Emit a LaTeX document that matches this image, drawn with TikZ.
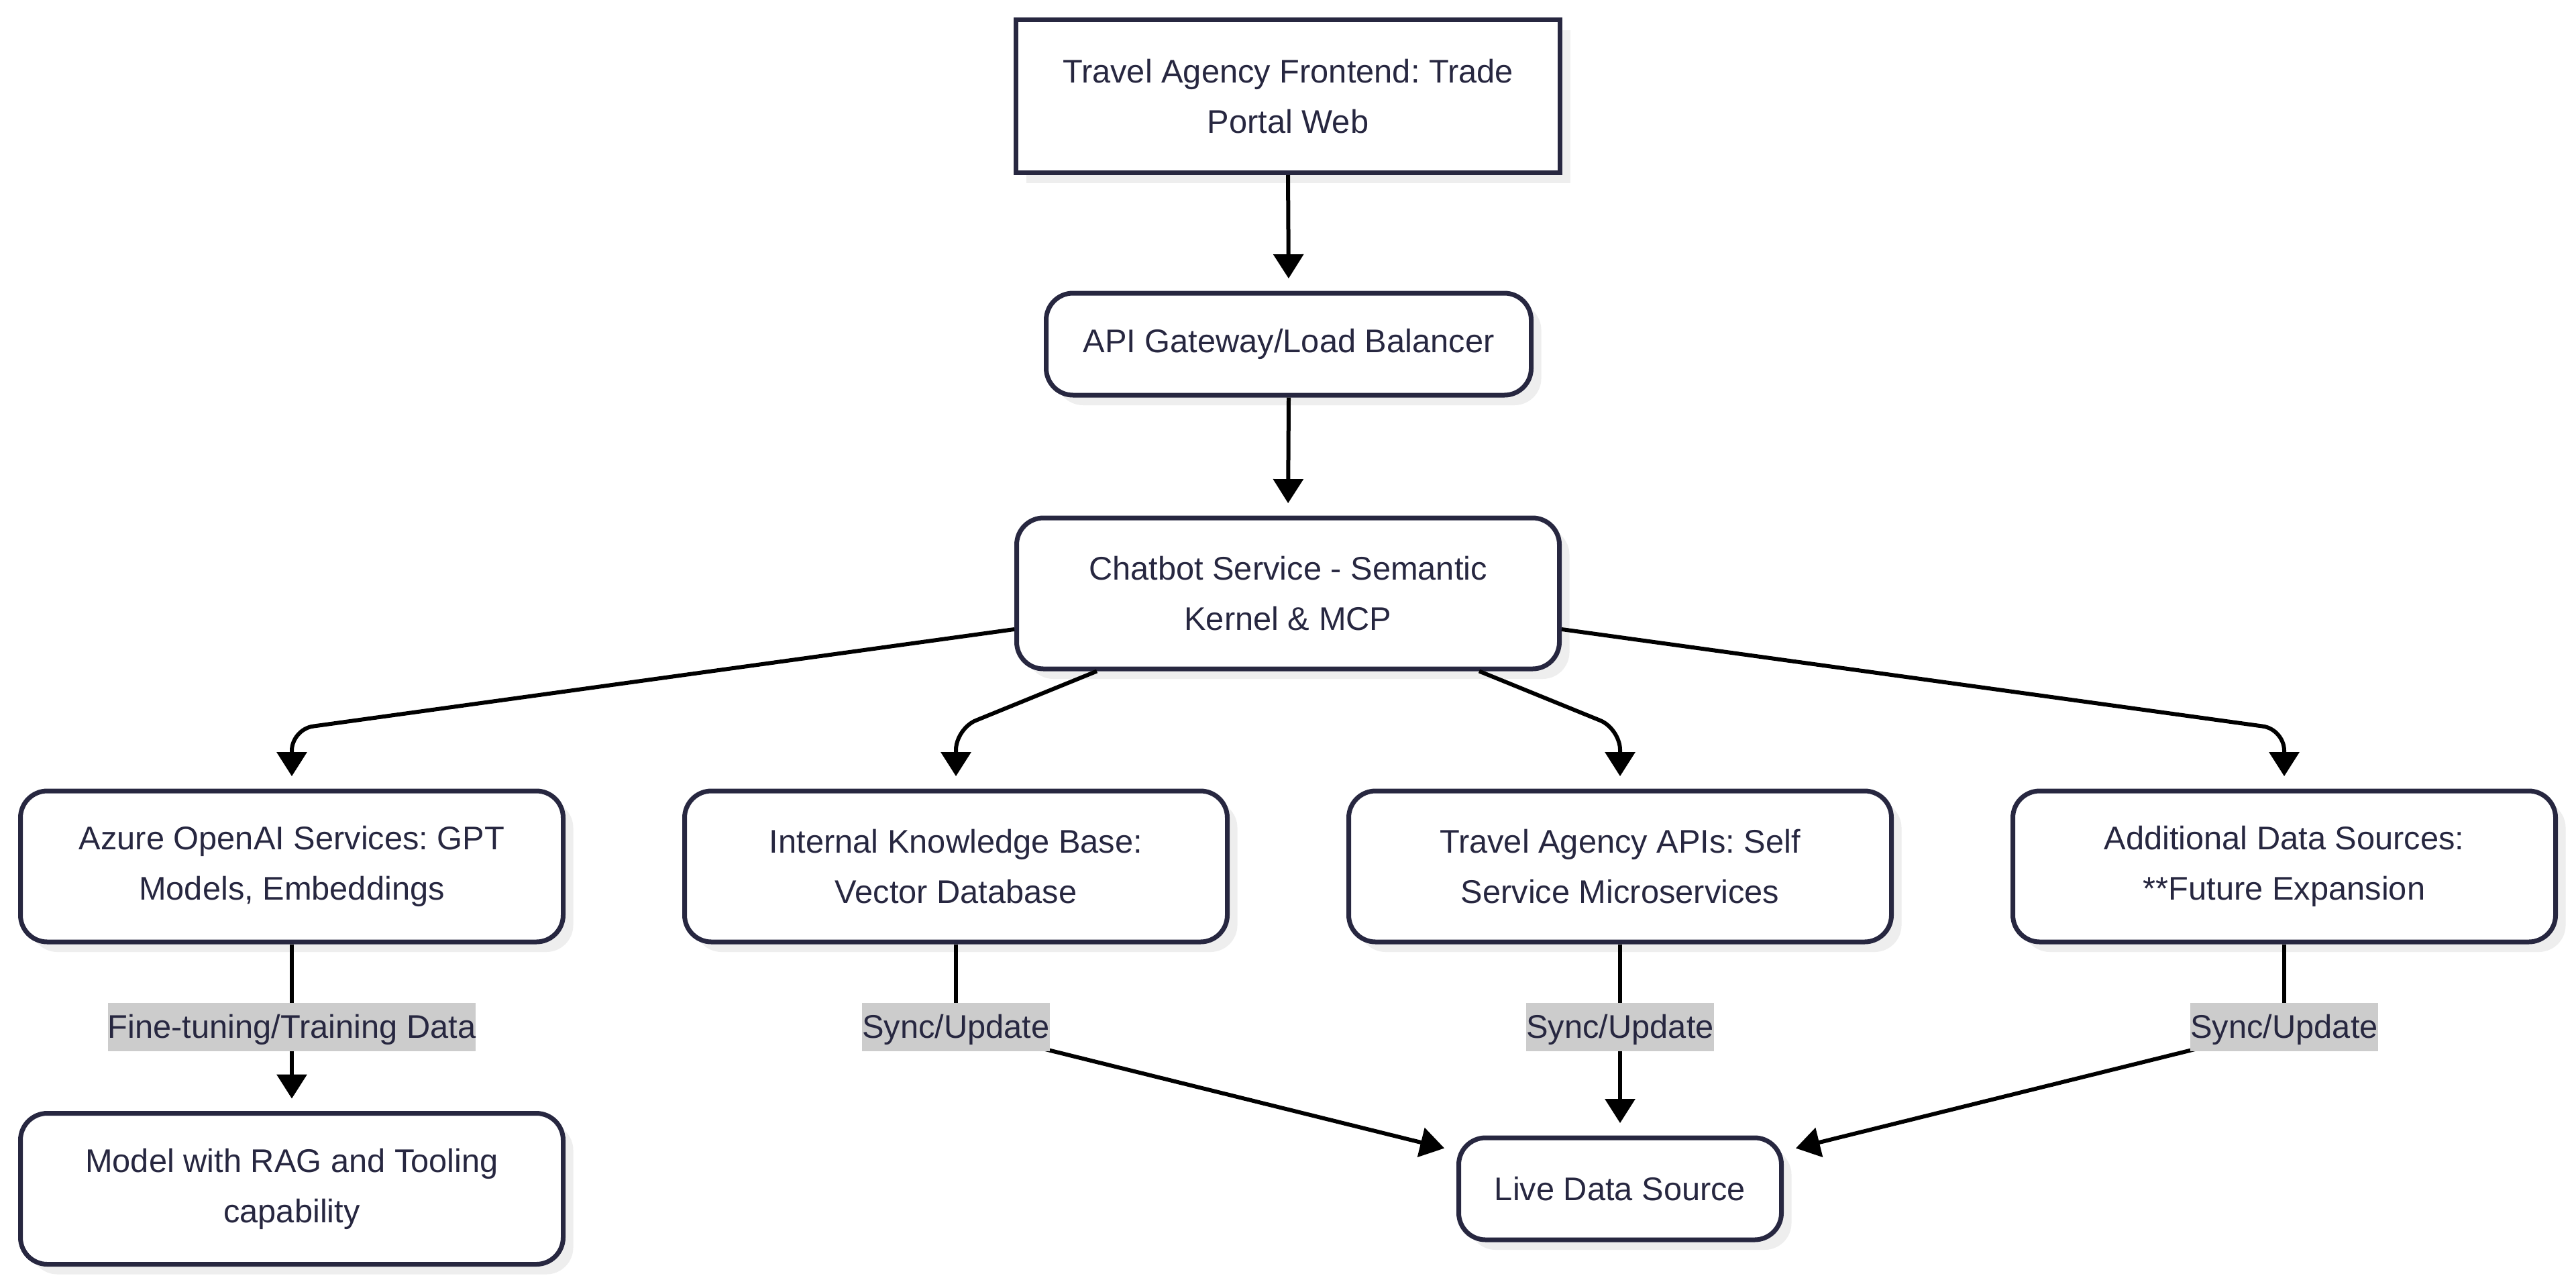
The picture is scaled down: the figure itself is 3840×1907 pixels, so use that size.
\documentclass[tikz,border=0pt]{standalone}
\usepackage{fontspec}
\setmainfont{Liberation Sans}
\usetikzlibrary{arrows.meta,shadows,calc}
\definecolor{ink}{RGB}{39,39,64}
\definecolor{lblgray}{RGB}{204,204,204}
\definecolor{shd}{RGB}{238,238,238}
\frenchspacing
\tikzset{
  txt/.style={font=\fontsize{12.2}{18.7}\selectfont, text=ink},
  box/.style={txt, draw=ink, line width=1.75pt, fill=white, align=center, inner sep=0pt,
    drop shadow={shadow xshift=3.75pt, shadow yshift=-3.75pt, fill=shd, opacity=1}},
  sharpbox/.style={box, minimum width=202.75pt, minimum height=57pt},
  bigbox/.style={box, rounded corners=10pt, minimum width=202.25pt, minimum height=56.25pt},
  smallbox/.style={box, rounded corners=10pt, minimum height=38pt},
  lbl/.style={txt, fill=lblgray, inner sep=0pt, text height=13.2pt, text depth=5pt},
  edge/.style={draw=black, line width=1.5pt, -{Triangle[width=11pt,length=9pt]}, shorten >=4.6pt},
  link/.style={draw=black, line width=1.5pt},
}
\begin{document}
\frenchspacing
\begin{tikzpicture}[x=0.25pt, y=-0.25pt]
  \fill[white] (0,0) rectangle (3840,1907);
  \useasboundingbox (0,0) rectangle (3840,1907);

  % nodes
  \node[sharpbox] (top) at (1920,143.5) {Travel Agency Frontend: Trade\\Portal Web};
  \node[smallbox, minimum width=180.75pt] (api) at (1921,513) {API Gateway/Load Balancer};
  \node[bigbox] (chat) at (1920,884.5) {Chatbot Service - Semantic\\Kernel \& MCP};
  \node[bigbox] (azure) at (435,1291.5) {Azure OpenAI Services: GPT\\Models, Embeddings};
  \node[bigbox] (kb) at (1425,1291.5) {Internal Knowledge Base:\\Vector Database};
  \node[bigbox] (travel) at (2415,1291.5) {Travel Agency APIs: Self\\Service Microservices};
  \node[bigbox] (add) at (3405,1291.5) {Additional Data Sources:\\**Future Expansion};
  \node[bigbox] (model) at (435,1772) {Model with RAG and Tooling\\capability};
  \node[smallbox, minimum width=120.25pt] (live) at (2415,1772) {Live Data Source};

  % bend points and label positions
  \coordinate (bA) at (435,1087);
  \coordinate (bB) at (1425,1086);
  \coordinate (bC) at (2415,1086);
  \coordinate (bD) at (3405,1087);
  \coordinate (cA) at (435,1531);
  \coordinate (cB) at (1425,1531);
  \coordinate (cC) at (2415,1531);
  \coordinate (cD) at (3405,1531);

  % connectors
  \draw[edge] (top.south) -- (api.north);
  \draw[edge] (api.south) -- (chat.north);
  \draw[edge, rounded corners=8pt] ($(chat.west)+(0,53.5)$) -- (bA) -- (azure.north);
  \draw[edge, rounded corners=8pt] ($(chat.south)+(-285,0)$) -- (bB) -- (kb.north);
  \draw[edge, rounded corners=8pt] ($(chat.south)+(285,0)$) -- (bC) -- (travel.north);
  \draw[edge, rounded corners=8pt] ($(chat.east)+(0,53.5)$) -- (bD) -- (add.north);

  \draw[edge] (azure.south) -- (model.north);
  \draw[link] (kb.south) -- (cB);
  \draw[edge] (cB) -- ($(live.west)+(0,-56)$);
  \draw[edge] (travel.south) -- (live.north);
  \draw[link] (add.south) -- (cD);
  \draw[edge] (cD) -- ($(live.east)+(0,-56)$);

  % edge labels
  \node[lbl] (lA) at (cA) {Fine-tuning/Training Data};
  \node[lbl] (lB) at (cB) {Sync/Update};
  \node[lbl] (lC) at (cC) {Sync/Update};
  \node[lbl] (lD) at (cD) {Sync/Update};
\end{tikzpicture}
\end{document}
